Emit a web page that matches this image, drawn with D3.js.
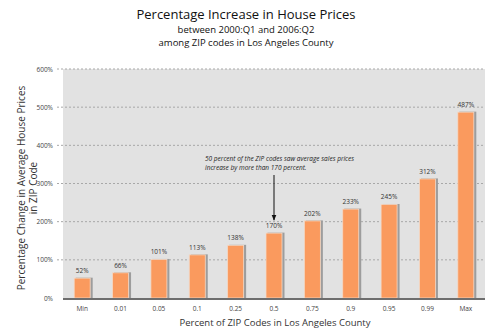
<!DOCTYPE html>
<html><head><meta charset="utf-8">
<script src="https://cdn.jsdelivr.net/npm/d3@7"></script>
<style>body{margin:0;background:#fff}svg{display:block}</style>
</head><body>
<svg id="c" width="496" height="335"></svg>
<script>
const categories = ["Min","0.01","0.05","0.1","0.25","0.5","0.75","0.9","0.95","0.99","Max"];
const values = [52,66,101,113,138,170,202,233,245,312,487];
const yTicks = [0,100,200,300,400,500,600];
const titleLines = ["Percentage Increase in House Prices","between 2000:Q1 and 2006:Q2","among ZIP codes in Los Angeles County"];
const yTitle = ["Percentage Change in Average House Prices","in ZIP Code"];
const xTitle = "Percent of ZIP Codes in Los Angeles County";
const note = ["50 percent of the ZIP codes saw average sales prices","increase by more than 170 percent."];
const noteCategory = "0.5";

const font = "'Open Sans', sans-serif";
const svg = d3.select("#c");
const m = {l:63, r:485, t:69, b:298};
const x = d3.scaleBand().domain(categories).range([m.l, m.r]).paddingInner(0).paddingOuter(0);
const y = d3.scaleLinear().domain([0,600]).range([m.b, m.t]);

svg.append("rect").attr("x",m.l).attr("y",m.t).attr("width",m.r-m.l).attr("height",m.b-m.t).attr("fill","#e2e2e2");

// grid
svg.append("g").selectAll("line").data(yTicks.filter(d=>d>0)).join("line")
  .attr("x1",m.l-6).attr("x2",m.r).attr("y1",d=>y(d)).attr("y2",d=>y(d))
  .attr("stroke","#a8a8a8").attr("stroke-width",1).attr("stroke-dasharray","2,2");

// y axis labels
svg.append("g").selectAll("text").data(yTicks).join("text")
  .attr("x",53).attr("y",d=>y(d)+2.5).attr("text-anchor","end")
  .attr("font-family",font).attr("font-size",6.5).attr("fill","#444")
  .text(d=>d+"%");

const bw = 16;
const bx = d => x(d) + x.bandwidth()/2 - bw/2;
// shadows
svg.append("g").selectAll("rect").data(values).join("rect")
  .attr("x",(d,i)=>bx(categories[i])+1.5).attr("y",d=>y(d)-0.5).attr("width",bw+1).attr("height",d=>y(0)-y(d)+0.5)
  .attr("fill","#9d9d9d");
svg.append("g").selectAll("rect").data(values).join("rect")
  .attr("x",(d,i)=>bx(categories[i])).attr("y",d=>y(d)).attr("width",bw).attr("height",d=>y(0)-y(d))
  .attr("fill","#fa9a5e").attr("stroke","#f4d9c6").attr("stroke-width",0.8);

// value labels
svg.append("g").selectAll("text").data(values).join("text")
  .attr("x",(d,i)=>x(categories[i])+x.bandwidth()/2).attr("y",d=>y(d)-5)
  .attr("text-anchor","middle").attr("font-family",font).attr("font-size",6.5).attr("fill","#333")
  .text(d=>d+"%");

// baseline
svg.append("line").attr("x1",m.l).attr("x2",m.r).attr("y1",y(0)+1).attr("y2",y(0)+1)
  .attr("stroke","#6e6e6e").attr("stroke-width",2);

// x labels
svg.append("g").selectAll("text").data(categories).join("text")
  .attr("x",d=>x(d)+x.bandwidth()/2).attr("y",311).attr("text-anchor","middle")
  .attr("font-family",font).attr("font-size",6.5).attr("fill","#444").text(d=>d);

svg.append("text").attr("x",275).attr("y",326).attr("text-anchor","middle")
  .attr("font-family",font).attr("font-size",9.5).attr("fill","#333").text(xTitle);

// y title
const yt = svg.append("text").attr("transform","translate(25,188) rotate(-90)")
  .attr("text-anchor","middle").attr("font-family",font).attr("font-size",10).attr("fill","#333");
yTitle.forEach((t,i)=>yt.append("tspan").attr("x",0).attr("dy",i?12:0).text(t));

// title
const sizes=[13,9.5,9.5], ys=[19,33,46];
titleLines.forEach((t,i)=>svg.append("text").attr("x",246).attr("y",ys[i]).attr("text-anchor","middle")
  .attr("font-family",font).attr("font-size",sizes[i]).attr("fill","#111").text(t));

// annotation
const nt = svg.append("text").attr("font-family",font).attr("font-size",6.5).attr("font-style","italic").attr("fill","#222");
note.forEach((t,i)=>nt.append("tspan").attr("x",205).attr("y",161+i*9).text(t));
const ax = x(noteCategory)+x.bandwidth()/2;
svg.append("defs").append("marker").attr("id","ah").attr("viewBox","0 0 10 10").attr("refX",9).attr("refY",5)
  .attr("markerWidth",6).attr("markerHeight",6).attr("orient","auto")
  .append("path").attr("d","M0,1 L10,5 L0,9 Z").attr("fill","#111");
svg.append("line").attr("x1",ax).attr("x2",ax).attr("y1",175).attr("y2",y(170)-13)
  .attr("stroke","#111").attr("stroke-width",1).attr("marker-end","url(#ah)");
</script>
</body></html>
